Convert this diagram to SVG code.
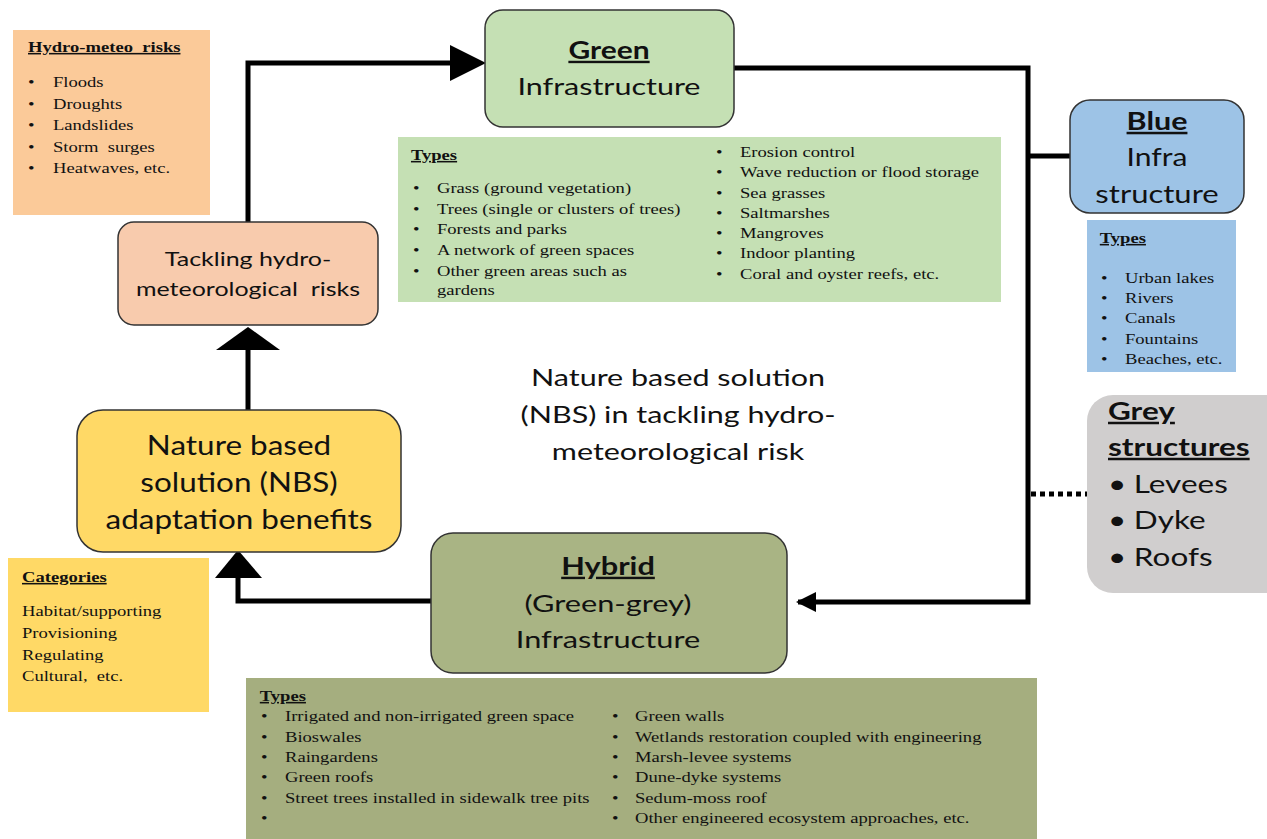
<svg xmlns="http://www.w3.org/2000/svg" width="1267" height="839" viewBox="0 0 1267 839">
<defs>
<style>
.sans{font-family:Lato,"Liberation Sans",sans-serif;fill:#111;white-space:pre;}
.serif{font-family:"Liberation Serif","Times New Roman",serif;fill:#111;font-size:15.5px;white-space:pre;}
.ttl{font-weight:bold;text-decoration:underline;}
.node{stroke:#333;stroke-width:1.5;}
.conn{fill:none;stroke:#000;stroke-width:5;}
.c{text-anchor:middle;}
</style>
<marker id="sm" viewBox="0 0 10 10" refX="9" refY="5" markerWidth="4" markerHeight="4" orient="auto"><path d="M0,0 L10,5 L0,10 z" fill="#000"/></marker>
</defs>
<rect width="1267" height="839" fill="#fff"/>

<g id="connectors">
<path class="conn" d="M248,222 V63 H455"/>
<polygon points="450,45 486,63 450,81" fill="#000"/>
<path class="conn" d="M248,410 V348"/>
<polygon points="216,350 280,350 248,327" fill="#000"/>
<path class="conn" d="M431,601 H238 V575"/>
<polygon points="215,578 262,578 238,550" fill="#000"/>
<path class="conn" stroke-width="4" d="M734,68 H1028 V602 H798" marker-end="url(#sm)"/>
<path class="conn" stroke-width="4" d="M1028,156 H1070"/>
<path class="conn" stroke-width="4" stroke-dasharray="5,4" d="M1031,494 H1087"/>
</g>

<g id="hydro-risks">
<rect x="13" y="30" width="197" height="185" fill="#FBCA99"/>
<g class="serif" transform="translate(28 0) scale(1.2 1)">
<text class="ttl" x="0" y="52" xml:space="preserve">Hydro-meteo  risks</text>
<text x="0" y="87">•</text><text x="20.8" y="87">Floods</text>
<text x="0" y="109">•</text><text x="20.8" y="109">Droughts</text>
<text x="0" y="130">•</text><text x="20.8" y="130">Landslides</text>
<text x="0" y="152">•</text><text x="20.8" y="152" xml:space="preserve">Storm  surges</text>
<text x="0" y="173">•</text><text x="20.8" y="173">Heatwaves, etc.</text>
</g>
</g>

<g id="green">
<rect class="node" x="485" y="10" width="249" height="117" rx="18" fill="#C5E0B4"/>
<text class="sans c ttl" transform="translate(609 0) scale(1.25 1)" x="0" y="59" font-size="24">Green</text>
<text class="sans c" transform="translate(609 0) scale(1.27 1)" x="0" y="95" font-size="24">Infrastructure</text>
</g>

<g id="green-types">
<rect x="398" y="137" width="603" height="165" fill="#C5E0B4"/>
<g class="serif" transform="translate(413 0) scale(1.2 1)">
<text class="ttl" x="-1.7" y="160">Types</text>
<text x="0" y="193">•</text><text x="20" y="193">Grass (ground vegetation)</text>
<text x="0" y="214">•</text><text x="20" y="214">Trees (single or clusters of trees)</text>
<text x="0" y="234">•</text><text x="20" y="234">Forests and parks</text>
<text x="0" y="255">•</text><text x="20" y="255">A network of green spaces</text>
<text x="0" y="276">•</text><text x="20" y="276">Other green areas such as</text>
<text x="20" y="295">gardens</text>
</g>
<g class="serif" transform="translate(716 0) scale(1.2 1)">
<text x="0" y="157">•</text><text x="20" y="157">Erosion control</text>
<text x="0" y="177">•</text><text x="20" y="177">Wave reduction or flood storage</text>
<text x="0" y="198">•</text><text x="20" y="198">Sea grasses</text>
<text x="0" y="218">•</text><text x="20" y="218">Saltmarshes</text>
<text x="0" y="238">•</text><text x="20" y="238">Mangroves</text>
<text x="0" y="258">•</text><text x="20" y="258">Indoor planting</text>
<text x="0" y="279">•</text><text x="20" y="279">Coral and oyster reefs, etc.</text>
</g>
</g>

<g id="blue">
<rect class="node" x="1070" y="100" width="174" height="113" rx="20" fill="#9DC3E6"/>
<text class="sans c ttl" transform="translate(1157 0) scale(1.22 1)" x="0" y="130" font-size="25">Blue</text>
<text class="sans c" transform="translate(1157 0) scale(1.2 1)" x="0" y="166" font-size="25">Infra</text>
<text class="sans c" transform="translate(1157 0) scale(1.24 1)" x="0" y="203" font-size="25">structure</text>
</g>

<g id="blue-types">
<rect x="1087" y="220" width="149" height="152" fill="#9DC3E6"/>
<g class="serif" transform="translate(1101 0) scale(1.2 1)">
<text class="ttl" x="-1" y="243">Types</text>
<text x="0" y="283">•</text><text x="20" y="283">Urban lakes</text>
<text x="0" y="303">•</text><text x="20" y="303">Rivers</text>
<text x="0" y="323">•</text><text x="20" y="323">Canals</text>
<text x="0" y="344">•</text><text x="20" y="344">Fountains</text>
<text x="0" y="364">•</text><text x="20" y="364">Beaches, etc.</text>
</g>
</g>

<g id="grey">
<rect x="1087" y="395" width="210" height="198" rx="26" fill="#D0CECE"/>
<g class="sans" font-size="25" transform="translate(1108 0) scale(1.26 1)">
<text class="ttl" x="0" y="420">Grey</text>
<text class="ttl" x="0" y="456">structures</text>
<text x="0" y="493">•</text><text x="20.5" y="493">Levees</text>
<text x="0" y="529">•</text><text x="20.5" y="529">Dyke</text>
<text x="0" y="566">•</text><text x="20.5" y="566">Roofs</text>
</g>
</g>

<g id="tackling">
<rect class="node" x="118" y="222" width="260" height="103" rx="16" fill="#F8CBAD"/>
<text class="sans c" transform="translate(248 0) scale(1.25 1)" x="0" y="266" font-size="20">Tackling hydro-</text>
<text class="sans c" transform="translate(248 0) scale(1.25 1)" x="0" y="296" font-size="20" xml:space="preserve">meteorological  risks</text>
</g>

<g id="nbs-benefits">
<rect class="node" x="77" y="410" width="324" height="142" rx="26" fill="#FFD966"/>
<g class="sans c" font-size="26" transform="translate(239 0) scale(1.21 1)">
<text x="0" y="455">Nature based</text>
<text x="0" y="492">solution (NBS)</text>
<text x="0" y="529">adaptation benefits</text>
</g>
</g>

<g id="categories">
<rect x="8" y="558" width="201" height="154" fill="#FFD966"/>
<g class="serif" transform="translate(22 0) scale(1.2 1)">
<text class="ttl" x="0" y="582">Categories</text>
<text x="0" y="616">Habitat/supporting</text>
<text x="0" y="638">Provisioning</text>
<text x="0" y="660">Regulating</text>
<text x="0" y="681" xml:space="preserve">Cultural,  etc.</text>
</g>
</g>

<g id="center-label">
<g class="sans c" font-size="24" transform="translate(678 0) scale(1.27 1)">
<text x="0" y="386">Nature based solution</text>
<text x="0" y="423">(NBS) in tackling hydro-</text>
<text x="0" y="460">meteorological risk</text>
</g>
</g>

<g id="hybrid">
<rect class="node" x="431" y="533" width="356" height="140" rx="22" fill="#A9B484"/>
<g class="sans c" font-size="24" transform="translate(608 0) scale(1.28 1)">
<text class="ttl" x="0" y="575">Hybrid</text>
<text x="0" y="612">(Green-grey)</text>
<text x="0" y="648">Infrastructure</text>
</g>
</g>

<g id="hybrid-types">
<rect x="246" y="678" width="791" height="161" fill="#A5AE7F"/>
<g class="serif" transform="translate(261 0) scale(1.2 1)">
<text class="ttl" x="-1" y="701">Types</text>
<text x="0" y="721">•</text><text x="20" y="721">Irrigated and non-irrigated green space</text>
<text x="0" y="742">•</text><text x="20" y="742">Bioswales</text>
<text x="0" y="762">•</text><text x="20" y="762">Raingardens</text>
<text x="0" y="782">•</text><text x="20" y="782">Green roofs</text>
<text x="0" y="803">•</text><text x="20" y="803">Street trees installed in sidewalk tree pits</text>
<text x="0" y="823">•</text>
</g>
<g class="serif" transform="translate(612 0) scale(1.2 1)">
<text x="0" y="721">•</text><text x="19.2" y="721">Green walls</text>
<text x="0" y="742">•</text><text x="19.2" y="742">Wetlands restoration coupled with engineering</text>
<text x="0" y="762">•</text><text x="19.2" y="762">Marsh-levee systems</text>
<text x="0" y="782">•</text><text x="19.2" y="782">Dune-dyke systems</text>
<text x="0" y="803">•</text><text x="19.2" y="803">Sedum-moss roof</text>
<text x="0" y="823">•</text><text x="19.2" y="823">Other engineered ecosystem approaches, etc.</text>
</g>
</g>
</svg>
